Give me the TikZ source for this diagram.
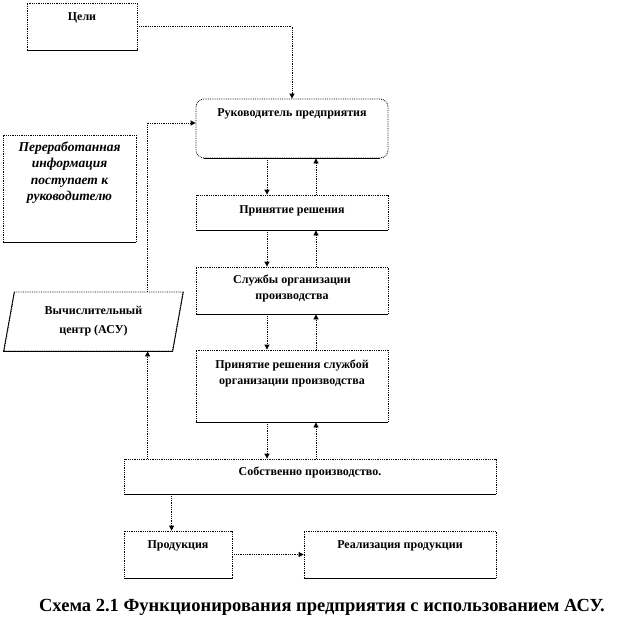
\documentclass[tikz,border=0pt]{standalone}
\usepackage{fontspec}
\setmainfont{Liberation Serif}
\usetikzlibrary{positioning,arrows.meta,shapes.geometric}

\begin{document}
\begin{tikzpicture}[x=1pt, y=-1pt,
		every node/.style={font=\bfseries\fontsize{12}{16}\selectfont},
		every label/.style={inner sep=0pt, align=center},
		block/.style={draw=black, densely dotted, line width=0.8pt, inner sep=0pt, minimum width=192pt},
		flow/.style={draw=black, densely dotted, line width=0.8pt, -{Triangle[length=5pt, width=5pt]}}]
		
		\useasboundingbox (0,0) rectangle (640,629);
		
		% ===== BLOCKS (Top to Bottom) =====
		% Goals
		\node[block, minimum width=110pt, minimum height=47pt, label={[anchor=north, yshift=-9.5pt]north:Цели}] (goals) at (82,26.5) {};
		
		% Processed information (note, left)
		\node[block, minimum width=133pt, minimum height=107pt, label={[anchor=north, yshift=-7pt, font=\bfseries\itshape\fontsize{13.5}{16.5}\selectfont]north:Переработанная\\информация\\поступает к\\руководителю}] (info) at (69.5,188.5) {};
		
		% Head of the enterprise
		\node[block, rounded corners=8pt, minimum height=59pt, label={[anchor=north, yshift=-9.5pt]north:Руководитель предприятия}] (head) at (292,128.5) {};
		
		% Decision
		\node[block, minimum height=35pt, label={[anchor=north, yshift=-10.5pt]north:Принятие решения}] (decision) at (292,212.5) {};
		
		% Production services
		\node[block, minimum height=47pt, label={[anchor=north, yshift=-8.5pt]north:Службы организации\\производства}] (services) at (292,290.5) {};
		
		% Decision of the services
		\node[block, minimum height=72pt, label={[anchor=north, yshift=-10.5pt]north:Принятие решения службой\\организации производства}] (sdecision) at (292,386) {};
		
		% Computing centre
		\node[draw=black, densely dotted, line width=0.8pt, trapezium, trapezium left angle=77.6, trapezium right angle=102.4, trapezium stretches=true, minimum width=179pt, minimum height=59pt, inner sep=0pt, align=center, font=\bfseries\fontsize{12}{19}\selectfont] (asu) at (93.5,321.5) {Вычислительный\\центр (АСУ)};
		
		% Production itself
		\node[block, minimum width=372pt, minimum height=35pt, label={[anchor=north, yshift=-8.5pt]north:Собственно производство.}] (prod) at (310,476.5) {};
		
		% Products and sales
		\node[block, minimum width=108pt, minimum height=47pt, label={[anchor=north, yshift=-9.5pt]north:Продукция}] (product) at (178,554.5) {};
		\node[block, minimum width=192pt, minimum height=47pt, label={[anchor=north, yshift=-9.5pt]north:Реализация продукции}] (sales) at (400,554.5) {};
		
		% Solid lower edges
		\foreach \n in {goals, info, decision, services, sdecision, prod, product, sales}
		\draw[line width=0.8pt] (\n.south west) -- (\n.south east);
		\draw[line width=0.8pt] ([xshift=8pt]head.south west) -- ([xshift=-8pt]head.south east);
		\draw[line width=0.8pt] (asu.top right corner) -- (asu.bottom right corner) -- (asu.bottom left corner) -- (asu.top left corner);
		
		% ===== CONNECTORS =====
		\draw[flow] (goals.east) -| (head.north);
		
		\foreach \a/\b in {head/decision, decision/services, services/sdecision, sdecision/prod} {
			\draw[flow] ([xshift=-25pt]\a.south) -- ([xshift=-25pt]\a.south |- \b.north);
			\draw[flow] ([xshift=24pt]\a.south |- \b.north) -- ([xshift=24pt]\a.south);
		}
		
		% Feedback through the computing centre
		\coordinate (loopfoot) at ([xshift=24pt]prod.north west);
		\draw[flow] (loopfoot) -- (loopfoot |- asu.south);
		\draw[flow] (loopfoot |- asu.north) |- ([yshift=5.5pt]head.west);
		
		\draw[flow] ([xshift=48pt]prod.south west) -- ([xshift=48pt]prod.south west |- product.north);
		\draw[flow] (product.east) -- (sales.west);
		
		% Caption
		\node[font=\bfseries\fontsize{18.5}{20}\selectfont] (caption) at (322,607) {Схема 2.1 Функционирования предприятия с использованием АСУ.};
		
\end{tikzpicture}
\end{document}
